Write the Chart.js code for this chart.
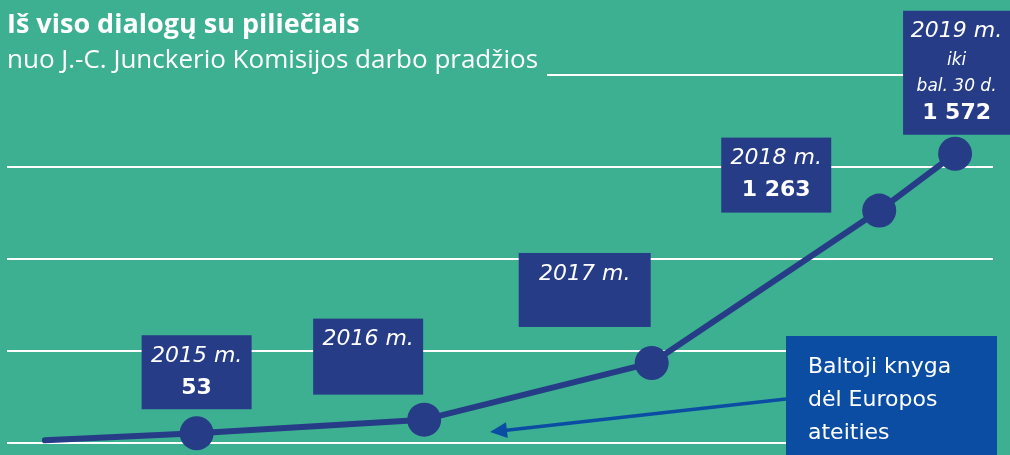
<!DOCTYPE html>
<html><head><meta charset="utf-8">
<script src="https://cdn.jsdelivr.net/npm/chart.js@4/dist/chart.umd.min.js"></script>
<style>
html,body{margin:0;padding:0;background:#3EB092;}
#wrap{width:1010px;height:455px;position:relative;}
</style>
</head><body><div id="wrap"><canvas id="c"></canvas></div>
<script>
// ---- data ----
const titleText = 'Iš viso dialogų su piliečiais';
const subtitleText = 'nuo J.-C. Junckerio Komisijos darbo pradžios';
const monthIndex = [4, 12, 24, 36, 48, 52];          // months from Jan 2015
const dialogues = [15, 53, 127, 435, 1263, 1572];      // cumulative dialogues
const yearLabels = ['', '2015 m.', '2016 m.', '2017 m.', '2018 m.', '2019 m.'];
const extraLabels = [[], [], [], [], [], ['iki', 'bal. 30 d.']];
const valueLabels = ['', '53', '', '', '1 263', '1 572'];
const yTicks = [0, 500, 1000, 1500, 2000];
const noteLines = ['Baltoji knyga', 'dėl Europos', 'ateities'];

// ---- styles / layout ----
const BG = '#3EB092', NAVY = '#263C86', BLUE = '#0B4DA2';
const FONT = '"DejaVu Sans", sans-serif';
const TFONT = '"Open Sans", sans-serif';
// label boxes, relative to their data point: [dxLeft, dxRight, dyTop, dyBottom]
const boxOffsets = [null, [-55, 55, -98, -24], [-111, -1, -101, -25], [-133, -1, -110, -36], [-158, -48, -73, 2], [-52, 55, -143, -19]];

const decor = {
  id: 'decor',
  beforeDraw(chart) {
    const c = chart.ctx;
    c.save(); c.fillStyle = BG; c.fillRect(0, 0, chart.width, chart.height); c.restore();
  },
  beforeDatasetsDraw(chart) {
    const c = chart.ctx, ys = chart.scales.y, xs = chart.scales.x, area = chart.chartArea;
    c.save();
    // titles
    c.fillStyle = '#fff'; c.textBaseline = 'alphabetic'; c.textAlign = 'left';
    c.font = 'bold 27px ' + TFONT; c.fillText(titleText, 7, 33);
    c.font = '26px ' + TFONT; c.fillText(subtitleText, 7, 68);
    const subEnd = 7 + c.measureText(subtitleText).width;
    // top grid line as underline
    const yTop = ys.getPixelForValue(yTicks[yTicks.length - 1]);
    c.strokeStyle = '#fff'; c.lineWidth = 2;
    c.beginPath(); c.moveTo(subEnd + 9, yTop); c.lineTo(area.right, yTop); c.stroke();
    // label boxes
    for (let i = 0; i < dialogues.length; i++) {
      const o = boxOffsets[i]; if (!o) continue;
      const px = xs.getPixelForValue(monthIndex[i]), py = ys.getPixelForValue(dialogues[i]);
      const l = px + o[0], r = px + o[1], t = py + o[2], b = py + o[3];
      c.fillStyle = NAVY; c.fillRect(l, t, r - l, b - t);
      const cx = (l + r) / 2;
      c.fillStyle = '#fff'; c.textAlign = 'center'; c.textBaseline = 'middle';
      let y = t + 21;
      c.font = 'italic 22px ' + FONT; c.fillText(yearLabels[i], cx, y);
      if (extraLabels[i].length) {
        c.font = 'italic 17px ' + FONT;
        y += 29; c.fillText(extraLabels[i][0], cx, y);
        y += 26; c.fillText(extraLabels[i][1], cx, y);
        y += 27;
      } else y += 32;
      if (valueLabels[i]) { c.font = 'bold 22px ' + FONT; c.fillText(valueLabels[i], cx, y); }
    }
    // note box + arrow
    c.fillStyle = BLUE; c.fillRect(786, 336, 211, 119);
    c.fillStyle = '#fff'; c.textAlign = 'left'; c.textBaseline = 'middle'; c.font = '22px ' + FONT;
    noteLines.forEach((s, k) => c.fillText(s, 808, 367 + k * 33));
    const x0 = 786, y0 = 399, x1 = 490, y1 = 432;
    const ang = Math.atan2(y1 - y0, x1 - x0);
    c.strokeStyle = BLUE; c.lineWidth = 3.5;
    c.beginPath(); c.moveTo(x0, y0); c.lineTo(x1 - 12 * Math.cos(ang), y1 - 12 * Math.sin(ang)); c.stroke();
    c.fillStyle = BLUE; c.beginPath();
    c.moveTo(x1, y1);
    c.lineTo(x1 - 17 * Math.cos(ang) + 8 * Math.sin(ang), y1 - 17 * Math.sin(ang) - 8 * Math.cos(ang));
    c.lineTo(x1 - 17 * Math.cos(ang) - 8 * Math.sin(ang), y1 - 17 * Math.sin(ang) + 8 * Math.cos(ang));
    c.closePath(); c.fill();
    c.restore();
  }
};

new Chart(document.getElementById('c'), {
  type: 'line',
  data: {
    datasets: [{
      data: monthIndex.map((m, i) => ({ x: m, y: dialogues[i] })),
      borderColor: NAVY, borderWidth: 6, borderCapStyle: 'round', borderJoinStyle: 'round',
      tension: 0, fill: false, clip: false,
      pointRadius: dialogues.map((v, i) => i === 0 ? 0 : 17),
      pointHoverRadius: dialogues.map((v, i) => i === 0 ? 0 : 17),
      pointBackgroundColor: NAVY, pointBorderWidth: 0
    }]
  },
  options: {
    responsive: true, maintainAspectRatio: false, animation: false,
    layout: { autoPadding: false, padding: { left: 7, right: 17, top: 75, bottom: 12 } },
    plugins: { legend: { display: false }, tooltip: { enabled: false } },
    events: [],
    scales: {
      x: { type: 'linear', min: 2, max: 54, display: false },
      y: {
        type: 'linear', min: 0, max: 2000,
        afterBuildTicks: s => { s.ticks = yTicks.map(v => ({ value: v })); },
        ticks: { display: false },
        border: { display: false },
        grid: {
          drawTicks: false, lineWidth: 2,
          color: ctx => (ctx.tick && ctx.tick.value === yTicks[yTicks.length - 1]) ? 'rgba(0,0,0,0)' : '#ffffff'
        }
      }
    }
  },
  plugins: [decor]
});
</script>
</body></html>
